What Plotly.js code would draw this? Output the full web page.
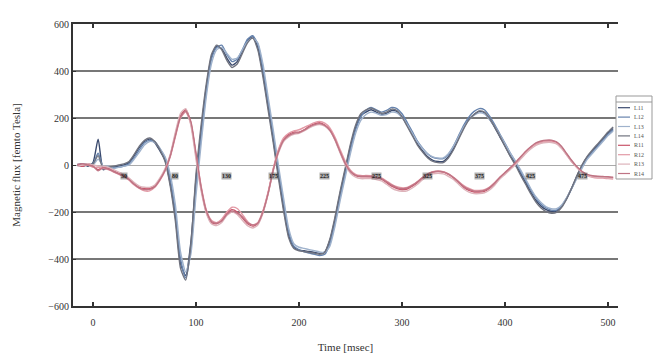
<!DOCTYPE html>
<html>
<head>
<meta charset="utf-8">
<script src="https://cdn.plot.ly/plotly-3.0.1.min.js"></script>
<style>html,body{margin:0;padding:0;background:#fff;}#chart{width:653px;height:355px;}</style>
</head>
<body>
<div id="chart"></div>
<script>
// Time axis [msec]
var timeMs = [-15,-10,-5,0,5,10,15,20,25,30,
 35,40,45,50,55,60,65,70,75,80,
 85,90,95,100,105,110,115,120,125,130,
 135,140,145,150,155,160,165,170,175,180,
 185,190,195,200,205,210,215,220,225,230,
 235,240,245,250,255,260,265,270,275,280,
 285,290,295,300,305,310,315,320,325,330,
 335,340,345,350,355,360,365,370,375,380,
 385,390,395,400,405,410,415,420,425,430,
 435,440,445,450,455,460,465,470,475,480,
 485,490,495,500,505];

// Blue group
var ch1 = [0,5,-5,10,110,-20,-10,-8,-5,0,
 10,40,75,100,110,95,60,20,-80,-220,
 -420,-470,-330,-60,150,330,460,505,495,455,
 425,440,485,530,545,500,390,250,110,-40,
 -180,-300,-350,-362,-365,-368,-372,-376,-370,-320,
 -230,-120,-20,80,160,210,225,235,225,215,
 220,232,228,205,170,130,90,60,35,20,
 15,15,35,70,115,160,195,215,228,222,
 195,160,120,80,40,5,-35,-75,-115,-150,
 -175,-190,-197,-195,-175,-140,-95,-45,0,35,
 60,85,110,135,155];
var ch2 = [5,0,0,5,50,-10,-15,-10,-10,-5,
 5,30,65,95,105,100,70,30,-60,-200,
 -400,-480,-360,-90,120,310,450,500,510,470,
 440,450,490,535,550,515,410,270,130,-20,
 -160,-285,-345,-360,-370,-375,-380,-385,-380,-335,
 -245,-135,-35,65,150,205,232,245,235,225,
 232,245,240,218,182,142,102,72,47,32,
 27,27,45,80,125,170,205,228,240,235,
 208,172,132,92,52,15,-25,-65,-105,-140,
 -167,-183,-192,-192,-175,-142,-98,-50,-5,30,
 55,80,105,130,150];
var ch3 = [-5,5,5,0,25,-5,-5,-15,-10,-5,
 0,25,55,85,100,95,70,35,-40,-170,
 -370,-455,-380,-130,90,290,430,490,500,475,
 450,455,490,525,540,520,430,290,150,0,
 -140,-270,-335,-350,-355,-360,-365,-370,-372,-345,
 -260,-150,-50,50,135,190,215,225,220,212,
 215,225,222,202,172,135,98,70,48,35,
 30,30,48,80,120,162,192,212,222,218,
 195,165,128,90,52,18,-20,-60,-100,-135,
 -160,-178,-186,-186,-170,-138,-98,-55,-12,25,
 50,75,100,125,145];
var ch4 = [0,-5,0,5,40,-15,-10,-5,0,5,
 15,45,80,105,115,100,65,15,-90,-240,
 -440,-490,-340,-40,170,345,470,510,490,445,
 415,430,475,520,540,490,375,235,95,-55,
 -195,-310,-355,-365,-368,-372,-375,-380,-372,-315,
 -220,-110,-10,90,170,218,235,242,232,220,
 225,238,232,205,165,125,85,55,30,15,
 10,10,30,65,110,155,192,215,230,225,
 198,162,122,80,38,0,-42,-82,-122,-158,
 -183,-198,-205,-202,-180,-143,-96,-44,2,38,
 65,90,115,140,162];

// Red group
var ch5 = [0,-5,5,-5,-20,-10,-15,-25,-35,-45,
 -60,-80,-95,-100,-100,-90,-60,-20,40,130,
 210,235,180,40,-100,-200,-245,-250,-235,-205,
 -190,-200,-225,-250,-260,-250,-200,-120,-20,60,
 110,130,140,140,150,165,175,180,170,150,
 110,55,5,-30,-45,-50,-50,-50,-55,-60,
 -75,-90,-100,-105,-102,-90,-75,-55,-40,-30,
 -28,-30,-40,-55,-75,-95,-108,-115,-115,-112,
 -100,-80,-55,-35,-15,5,30,55,75,90,
 98,102,102,95,75,45,15,-10,-30,-42,
 -48,-50,-50,-52,-55];
var ch6 = [5,0,0,-10,-10,-15,-20,-30,-40,-50,
 -65,-85,-100,-110,-110,-95,-65,-25,35,120,
 200,225,175,45,-90,-190,-235,-245,-230,-200,
 -180,-185,-210,-240,-255,-245,-195,-115,-15,65,
 115,135,145,150,160,170,180,185,178,158,
 118,65,15,-22,-40,-45,-45,-46,-50,-55,
 -68,-82,-92,-97,-95,-85,-70,-52,-38,-28,
 -25,-28,-38,-52,-70,-88,-100,-108,-108,-105,
 -94,-75,-52,-32,-12,8,32,56,76,90,
 97,100,99,92,72,42,12,-12,-32,-45,
 -52,-55,-56,-58,-60];
var ch7 = [-5,0,5,0,-5,-5,-10,-20,-30,-40,
 -55,-75,-90,-95,-95,-85,-55,-15,45,140,
 220,240,170,25,-110,-205,-250,-258,-245,-215,
 -200,-210,-235,-258,-268,-255,-205,-125,-25,50,
 100,120,130,135,145,158,168,172,165,145,
 105,50,0,-35,-52,-58,-58,-58,-62,-68,
 -82,-98,-108,-112,-110,-98,-82,-62,-48,-38,
 -35,-38,-48,-62,-82,-102,-115,-122,-122,-118,
 -106,-86,-60,-40,-20,0,24,48,68,84,
 92,96,96,90,70,42,12,-12,-32,-44,
 -50,-52,-52,-54,-56];
var ch8 = [0,5,0,-5,-25,-12,-18,-28,-38,-48,
 -62,-82,-98,-105,-104,-92,-62,-22,38,125,
 205,230,185,50,-95,-195,-240,-248,-238,-210,
 -195,-205,-220,-245,-255,-248,-200,-122,-22,55,
 105,125,135,138,148,162,172,176,168,148,
 108,55,5,-28,-44,-48,-48,-49,-53,-58,
 -72,-86,-96,-101,-98,-87,-72,-53,-38,-29,
 -26,-29,-38,-53,-72,-92,-104,-111,-112,-108,
 -96,-77,-52,-32,-12,10,34,58,78,94,
 102,106,106,99,79,48,18,-8,-28,-40,
 -46,-48,-49,-50,-52];

var channelNames = ["L11","L12","L13","L14","R11","R12","R13","R14"];
var channelColors = ["#3a4a6e","#6683ad","#9fb2cc","#70737f","#c9556a","#e39aa6","#ddb3ba","#bf7484"];
var series = [ch1,ch2,ch3,ch4,ch5,ch6,ch7,ch8];

// Latency markers along the baseline
var markerTimes = [30,80,130,175,225,275,325,375,425,475];
var markerLabels = ["30","80","130","175","225","275","325","375","425","475"];
var markerLevel = -45;

var xTickVals = [0,100,200,300,400,500];
var yTickVals = [-600,-400,-200,0,200,400,600];

var traces = series.map(function(s,i){
  return {x: timeMs, y: s, type:'scatter', mode:'lines', name: channelNames[i],
    line:{color: channelColors[i], width:1.4, shape:'spline', smoothing:0.6}, showlegend:false};
});

var font = "Liberation Serif, Times New Roman, serif";
var L=73, R=618, T=24, B=306;
function px(p){return (p-L)/(R-L);}
function py(p){return (B-p)/(B-T);}

var annotations = markerTimes.map(function(t,i){
  return {x:t, y:markerLevel, xref:'x', yref:'y', text:'<b>'+markerLabels[i]+'</b>', showarrow:false,
    font:{family:font, size:6, color:'#222'}, bgcolor:'rgba(80,80,80,0.45)', borderpad:0};
});

// Compact legend
var shapes = [{type:'rect', xref:'paper', yref:'paper', x0:px(616), x1:px(652), y0:py(179), y1:py(96),
  line:{color:'#999', width:1}, fillcolor:'#fff', layer:'above'},
  {type:'line', xref:'paper', yref:'paper', x0:px(616), x1:px(652), y0:py(102), y1:py(102),
  line:{color:'#999', width:1}, layer:'above'}];
var rowH = 9.4, top0 = 103;
channelNames.forEach(function(n,i){
  var yy = top0 + rowH*(i+0.5);
  shapes.push({type:'line', xref:'paper', yref:'paper', x0:px(618), x1:px(630), y0:py(yy), y1:py(yy),
    line:{color:channelColors[i], width:1.2}, layer:'above'});
  annotations.push({xref:'paper', yref:'paper', x:px(632), y:py(yy), xanchor:'left', yanchor:'middle',
    text:n, showarrow:false, font:{family:font, size:6, color:'#555'}});
});

var layout = {
  width:653, height:355,
  margin:{l:L, r:653-R, t:T, b:355-B},
  paper_bgcolor:'#fff', plot_bgcolor:'#fff',
  showlegend:false,
  font:{family:font, size:10, color:'#333'},
  xaxis:{range:[-19.4,509.7], tickvals:xTickVals, ticks:'inside', ticklen:4, tickwidth:1.5, tickcolor:'#333',
    showline:true, linecolor:'#333', linewidth:2, mirror:'ticks', showgrid:false, zeroline:false,
    ticklabelstandoff:6,
    tickfont:{family:font, size:10, color:'#333'},
    title:{text:'Time [msec]', font:{family:font, size:11, color:'#333'}, standoff:16}},
  yaxis:{range:[-600,600], tickvals:yTickVals, ticks:'inside', ticklen:3, tickcolor:'#333',
    showline:true, linecolor:'#333', linewidth:2, mirror:false,
    showgrid:true, gridcolor:'#777', gridwidth:1.3,
    zeroline:true, zerolinecolor:'#aaa', zerolinewidth:1,
    tickfont:{family:font, size:10, color:'#333'},
    title:{text:'Magnetic flux [femto Tesla]', font:{family:font, size:11, color:'#333'}, standoff:26}},
  annotations: annotations,
  shapes: shapes
};

Plotly.newPlot('chart', traces, layout, {displayModeBar:false, staticPlot:true});
</script>
</body>
</html>
